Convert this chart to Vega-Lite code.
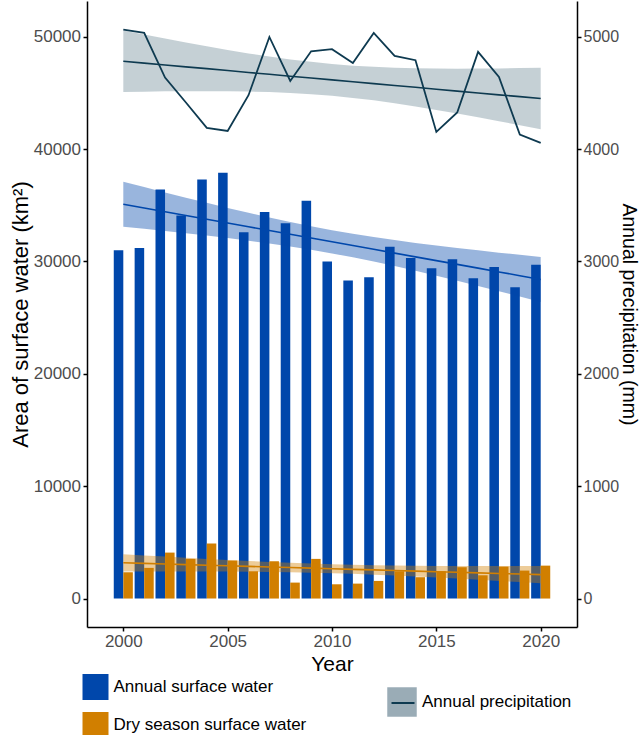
{
  "$schema": "https://vega.github.io/schema/vega-lite/v6.json",
  "width": 490,
  "height": 626,
  "autosize": {"type": "none"},
  "padding": {"left": 87, "top": 1, "right": 64, "bottom": 108},
  "background": "white",
  "config": {
    "font": "Liberation Sans",
    "view": {"stroke": null},
    "axis": {"grid": false, "domainColor": "black", "domainWidth": 1.5, "tickColor": "black", "tickWidth": 1.5, "tickSize": 4, "labelColor": "#4d4d4d", "labelFontSize": 17, "labelFont": "Liberation Sans", "titleFont": "Liberation Sans", "titleFontSize": 21, "titleFontWeight": "normal", "titleColor": "black", "labelPadding": 2.5},
    "legend": {"labelFont": "Liberation Sans", "labelFontSize": 17, "labelColor": "black", "padding": 0, "labelLimit": 400}
  },
  "datasets": {
    "bars": [
      {"year": 2000, "series": "Annual surface water", "area": 31000},
      {"year": 2001, "series": "Annual surface water", "area": 31200},
      {"year": 2002, "series": "Annual surface water", "area": 36400},
      {"year": 2003, "series": "Annual surface water", "area": 34100},
      {"year": 2004, "series": "Annual surface water", "area": 37300},
      {"year": 2005, "series": "Annual surface water", "area": 37900},
      {"year": 2006, "series": "Annual surface water", "area": 32600},
      {"year": 2007, "series": "Annual surface water", "area": 34400},
      {"year": 2008, "series": "Annual surface water", "area": 33400},
      {"year": 2009, "series": "Annual surface water", "area": 35400},
      {"year": 2010, "series": "Annual surface water", "area": 30000},
      {"year": 2011, "series": "Annual surface water", "area": 28300},
      {"year": 2012, "series": "Annual surface water", "area": 28600},
      {"year": 2013, "series": "Annual surface water", "area": 31300},
      {"year": 2014, "series": "Annual surface water", "area": 30300},
      {"year": 2015, "series": "Annual surface water", "area": 29400},
      {"year": 2016, "series": "Annual surface water", "area": 30200},
      {"year": 2017, "series": "Annual surface water", "area": 28500},
      {"year": 2018, "series": "Annual surface water", "area": 29500},
      {"year": 2019, "series": "Annual surface water", "area": 27700},
      {"year": 2020, "series": "Annual surface water", "area": 29700},
      {"year": 2000, "series": "Dry season surface water", "area": 2340},
      {"year": 2001, "series": "Dry season surface water", "area": 2730},
      {"year": 2002, "series": "Dry season surface water", "area": 4090},
      {"year": 2003, "series": "Dry season surface water", "area": 3530},
      {"year": 2004, "series": "Dry season surface water", "area": 4890},
      {"year": 2005, "series": "Dry season surface water", "area": 3380},
      {"year": 2006, "series": "Dry season surface water", "area": 2430},
      {"year": 2007, "series": "Dry season surface water", "area": 3320},
      {"year": 2008, "series": "Dry season surface water", "area": 1420},
      {"year": 2009, "series": "Dry season surface water", "area": 3530},
      {"year": 2010, "series": "Dry season surface water", "area": 1270},
      {"year": 2011, "series": "Dry season surface water", "area": 1330},
      {"year": 2012, "series": "Dry season surface water", "area": 1570},
      {"year": 2013, "series": "Dry season surface water", "area": 2430},
      {"year": 2014, "series": "Dry season surface water", "area": 1900},
      {"year": 2015, "series": "Dry season surface water", "area": 2430},
      {"year": 2016, "series": "Dry season surface water", "area": 2790},
      {"year": 2017, "series": "Dry season surface water", "area": 2070},
      {"year": 2018, "series": "Dry season surface water", "area": 2840},
      {"year": 2019, "series": "Dry season surface water", "area": 2490},
      {"year": 2020, "series": "Dry season surface water", "area": 2930}
    ],
    "precip": [
      {"year": 2000, "precip": 5064},
      {"year": 2001, "precip": 5034},
      {"year": 2002, "precip": 4637},
      {"year": 2003, "precip": 4415},
      {"year": 2004, "precip": 4189},
      {"year": 2005, "precip": 4162},
      {"year": 2006, "precip": 4480},
      {"year": 2007, "precip": 4998},
      {"year": 2008, "precip": 4607},
      {"year": 2009, "precip": 4871},
      {"year": 2010, "precip": 4889},
      {"year": 2011, "precip": 4767},
      {"year": 2012, "precip": 5034},
      {"year": 2013, "precip": 4829},
      {"year": 2014, "precip": 4791},
      {"year": 2015, "precip": 4153},
      {"year": 2016, "precip": 4326},
      {"year": 2017, "precip": 4865},
      {"year": 2018, "precip": 4643},
      {"year": 2019, "precip": 4130},
      {"year": 2020, "precip": 4055}
    ],
    "trend": [
      {"year": 2000, "blo": 33100, "bfit": 35100, "bhi": 37100, "olo": 2410, "ofit": 3180, "ohi": 3950, "plo": 4508, "pfit": 4782, "phi": 5056},
      {"year": 2001, "blo": 32909, "bfit": 34765, "bhi": 36621, "olo": 2413, "ofit": 3127, "ohi": 3841, "plo": 4511, "pfit": 4765, "phi": 5019},
      {"year": 2002, "blo": 32713, "bfit": 34430, "bhi": 36147, "olo": 2414, "ofit": 3075, "ohi": 3736, "plo": 4514, "pfit": 4749, "phi": 4984},
      {"year": 2003, "blo": 32512, "bfit": 34095, "bhi": 35678, "olo": 2412, "ofit": 3022, "ohi": 3632, "plo": 4515, "pfit": 4732, "phi": 4949},
      {"year": 2004, "blo": 32302, "bfit": 33760, "bhi": 35218, "olo": 2409, "ofit": 2970, "ohi": 3531, "plo": 4516, "pfit": 4716, "phi": 4916},
      {"year": 2005, "blo": 32082, "bfit": 33425, "bhi": 34768, "olo": 2400, "ofit": 2917, "ohi": 3434, "plo": 4515, "pfit": 4699, "phi": 4883},
      {"year": 2006, "blo": 31848, "bfit": 33090, "bhi": 34332, "olo": 2386, "ofit": 2864, "ohi": 3342, "plo": 4512, "pfit": 4682, "phi": 4852},
      {"year": 2007, "blo": 31599, "bfit": 32755, "bhi": 33911, "olo": 2367, "ofit": 2812, "ohi": 3257, "plo": 4508, "pfit": 4666, "phi": 4824},
      {"year": 2008, "blo": 31329, "bfit": 32420, "bhi": 33511, "olo": 2339, "ofit": 2759, "ohi": 3179, "plo": 4500, "pfit": 4649, "phi": 4798},
      {"year": 2009, "blo": 31035, "bfit": 32085, "bhi": 33135, "olo": 2303, "ofit": 2707, "ohi": 3111, "plo": 4489, "pfit": 4633, "phi": 4777},
      {"year": 2010, "blo": 30714, "bfit": 31750, "bhi": 32786, "olo": 2255, "ofit": 2654, "ohi": 3053, "plo": 4474, "pfit": 4616, "phi": 4758},
      {"year": 2011, "blo": 30365, "bfit": 31415, "bhi": 32465, "olo": 2197, "ofit": 2601, "ohi": 3005, "plo": 4455, "pfit": 4599, "phi": 4743},
      {"year": 2012, "blo": 29989, "bfit": 31080, "bhi": 32171, "olo": 2129, "ofit": 2549, "ohi": 2969, "plo": 4434, "pfit": 4583, "phi": 4732},
      {"year": 2013, "blo": 29589, "bfit": 30745, "bhi": 31901, "olo": 2051, "ofit": 2496, "ohi": 2941, "plo": 4408, "pfit": 4566, "phi": 4724},
      {"year": 2014, "blo": 29168, "bfit": 30410, "bhi": 31652, "olo": 1966, "ofit": 2444, "ohi": 2922, "plo": 4380, "pfit": 4550, "phi": 4720},
      {"year": 2015, "blo": 28732, "bfit": 30075, "bhi": 31418, "olo": 1874, "ofit": 2391, "ohi": 2908, "plo": 4349, "pfit": 4533, "phi": 4717},
      {"year": 2016, "blo": 28282, "bfit": 29740, "bhi": 31198, "olo": 1777, "ofit": 2338, "ohi": 2899, "plo": 4316, "pfit": 4516, "phi": 4716},
      {"year": 2017, "blo": 27822, "bfit": 29405, "bhi": 30988, "olo": 1676, "ofit": 2286, "ohi": 2896, "plo": 4283, "pfit": 4500, "phi": 4717},
      {"year": 2018, "blo": 27353, "bfit": 29070, "bhi": 30787, "olo": 1572, "ofit": 2233, "ohi": 2894, "plo": 4248, "pfit": 4483, "phi": 4718},
      {"year": 2019, "blo": 26879, "bfit": 28735, "bhi": 30591, "olo": 1467, "ofit": 2181, "ohi": 2895, "plo": 4213, "pfit": 4467, "phi": 4721},
      {"year": 2020, "blo": 26400, "bfit": 28400, "bhi": 30400, "olo": 1358, "ofit": 2128, "ohi": 2898, "plo": 4176, "pfit": 4450, "phi": 4724}
    ]
  },
  "layer": [
    {
      "layer": [
        {
          "data": {"name": "bars"},
          "transform": [{"filter": "datum.series === 'Annual surface water'"}],
          "mark": {"type": "bar", "width": 9.54, "xOffset": -4.77},
          "encoding": {
            "x": {"field": "year", "type": "quantitative", "scale": {"domain": [1998.5, 2021.5], "nice": false, "zero": false},
                  "axis": {"values": [2000, 2005, 2010, 2015, 2020], "format": "d", "title": "Year", "titlePadding": 4}},
            "y": {"field": "area", "type": "quantitative", "scale": {"domain": [-2532, 53182], "nice": false, "zero": false},
                  "axis": {"orient": "left", "values": [0, 10000, 20000, 30000, 40000, 50000], "format": "d", "title": "Area of surface water (km²)", "titlePadding": 1, "titleFontSize": 22}},
            "fill": {"field": "series", "type": "nominal",
                     "scale": {"domain": ["Annual surface water", "Dry season surface water"], "range": ["#0047AB", "#D17F00"]},
                     "legend": {"orient": "none", "legendX": -4.5, "legendY": 673, "title": null, "symbolType": "square", "symbolSize": 676, "symbolStrokeWidth": 0, "symbolOpacity": 1, "rowPadding": 12, "labelOffset": 5}}
          }
        },
        {
          "data": {"name": "bars"},
          "transform": [{"filter": "datum.series === 'Dry season surface water'"}],
          "mark": {"type": "bar", "width": 9.54, "xOffset": 4.77},
          "encoding": {
            "x": {"field": "year", "type": "quantitative", "scale": {"domain": [1998.5, 2021.5], "nice": false, "zero": false},
                  "axis": {"values": [2000, 2005, 2010, 2015, 2020], "format": "d", "title": "Year", "titlePadding": 4}},
            "y": {"field": "area", "type": "quantitative", "scale": {"domain": [-2532, 53182], "nice": false, "zero": false},
                  "axis": {"orient": "left", "values": [0, 10000, 20000, 30000, 40000, 50000], "format": "d", "title": "Area of surface water (km²)", "titlePadding": 1, "titleFontSize": 22}},
            "fill": {"field": "series", "type": "nominal"}
          }
        },
        {
          "data": {"name": "trend"},
          "mark": {"type": "area", "color": "#0047AB", "opacity": 0.4},
          "encoding": {
            "x": {"field": "year", "type": "quantitative", "scale": {"domain": [1998.5, 2021.5], "nice": false, "zero": false},
                  "axis": {"values": [2000, 2005, 2010, 2015, 2020], "format": "d", "title": "Year", "titlePadding": 4}},
            "y": {"field": "blo", "type": "quantitative", "scale": {"domain": [-2532, 53182], "nice": false, "zero": false},
                  "axis": {"orient": "left", "values": [0, 10000, 20000, 30000, 40000, 50000], "format": "d", "title": "Area of surface water (km²)", "titlePadding": 1, "titleFontSize": 22}},
            "y2": {"field": "bhi"}
          }
        },
        {
          "data": {"name": "trend"},
          "mark": {"type": "line", "color": "#0047AB", "strokeWidth": 1.6},
          "encoding": {
            "x": {"field": "year", "type": "quantitative", "scale": {"domain": [1998.5, 2021.5], "nice": false, "zero": false},
                  "axis": {"values": [2000, 2005, 2010, 2015, 2020], "format": "d", "title": "Year", "titlePadding": 4}},
            "y": {"field": "bfit", "type": "quantitative", "scale": {"domain": [-2532, 53182], "nice": false, "zero": false},
                  "axis": {"orient": "left", "values": [0, 10000, 20000, 30000, 40000, 50000], "format": "d", "title": "Area of surface water (km²)", "titlePadding": 1, "titleFontSize": 22}}
          }
        },
        {
          "data": {"name": "trend"},
          "mark": {"type": "area", "color": "#D17F00", "opacity": 0.4},
          "encoding": {
            "x": {"field": "year", "type": "quantitative", "scale": {"domain": [1998.5, 2021.5], "nice": false, "zero": false},
                  "axis": {"values": [2000, 2005, 2010, 2015, 2020], "format": "d", "title": "Year", "titlePadding": 4}},
            "y": {"field": "olo", "type": "quantitative", "scale": {"domain": [-2532, 53182], "nice": false, "zero": false},
                  "axis": {"orient": "left", "values": [0, 10000, 20000, 30000, 40000, 50000], "format": "d", "title": "Area of surface water (km²)", "titlePadding": 1, "titleFontSize": 22}},
            "y2": {"field": "ohi"}
          }
        },
        {
          "data": {"name": "trend"},
          "mark": {"type": "line", "color": "#D17F00", "strokeWidth": 1.6},
          "encoding": {
            "x": {"field": "year", "type": "quantitative", "scale": {"domain": [1998.5, 2021.5], "nice": false, "zero": false},
                  "axis": {"values": [2000, 2005, 2010, 2015, 2020], "format": "d", "title": "Year", "titlePadding": 4}},
            "y": {"field": "ofit", "type": "quantitative", "scale": {"domain": [-2532, 53182], "nice": false, "zero": false},
                  "axis": {"orient": "left", "values": [0, 10000, 20000, 30000, 40000, 50000], "format": "d", "title": "Area of surface water (km²)", "titlePadding": 1, "titleFontSize": 22}}
          }
        }
      ]
    },
    {
      "layer": [
        {
          "data": {"name": "trend"},
          "mark": {"type": "area", "opacity": 0.24},
          "encoding": {
            "x": {"field": "year", "type": "quantitative", "scale": {"domain": [1998.5, 2021.5], "nice": false, "zero": false},
                  "axis": {"values": [2000, 2005, 2010, 2015, 2020], "format": "d", "title": "Year", "titlePadding": 4}},
            "y": {"field": "plo", "type": "quantitative", "scale": {"domain": [-253.2, 5318.2], "nice": false, "zero": false},
                  "axis": {"orient": "right", "values": [0, 1000, 2000, 3000, 4000, 5000], "format": "d", "title": "Annual precipitation (mm)", "titlePadding": 0, "titleFontSize": 19.5, "labelFontSize": 16, "labelPadding": 2}},
            "y2": {"field": "phi"},
            "color": {"datum": "Annual precipitation", "type": "nominal", "scale": {"range": ["#0e3a50"]},
                      "legend": {"orient": "none", "legendX": 300, "legendY": 686, "title": null, "symbolType": "square", "symbolSize": 870, "symbolStrokeWidth": 0, "symbolOpacity": 0.42, "labelOffset": 5}}
          }
        },
        {
          "data": {"name": "trend"},
          "mark": {"type": "line", "color": "#0e3a50", "strokeWidth": 1.6},
          "encoding": {
            "x": {"field": "year", "type": "quantitative", "scale": {"domain": [1998.5, 2021.5], "nice": false, "zero": false},
                  "axis": {"values": [2000, 2005, 2010, 2015, 2020], "format": "d", "title": "Year", "titlePadding": 4}},
            "y": {"field": "pfit", "type": "quantitative", "scale": {"domain": [-253.2, 5318.2], "nice": false, "zero": false},
                  "axis": {"orient": "right", "values": [0, 1000, 2000, 3000, 4000, 5000], "format": "d", "title": "Annual precipitation (mm)", "titlePadding": 0, "titleFontSize": 19.5, "labelFontSize": 16, "labelPadding": 2}}
          }
        },
        {
          "data": {"name": "precip"},
          "mark": {"type": "line", "strokeWidth": 1.8},
          "encoding": {
            "x": {"field": "year", "type": "quantitative", "scale": {"domain": [1998.5, 2021.5], "nice": false, "zero": false},
                  "axis": {"values": [2000, 2005, 2010, 2015, 2020], "format": "d", "title": "Year", "titlePadding": 4}},
            "y": {"field": "precip", "type": "quantitative", "scale": {"domain": [-253.2, 5318.2], "nice": false, "zero": false},
                  "axis": {"orient": "right", "values": [0, 1000, 2000, 3000, 4000, 5000], "format": "d", "title": "Annual precipitation (mm)", "titlePadding": 0, "titleFontSize": 19.5, "labelFontSize": 16, "labelPadding": 2}},
            "stroke": {"datum": "Annual precipitation ", "type": "nominal", "scale": {"range": ["#0e3a50"]},
                       "legend": {"orient": "none", "legendX": 300, "legendY": 686, "title": null, "symbolType": "M-0.78,0H0.78", "symbolSize": 870, "symbolStrokeWidth": 2, "symbolStrokeColor": "#0e3a50", "symbolOpacity": 1, "labelOffset": 5, "labelExpr": "''"}}
          }
        }
      ]
    }
  ],
  "resolve": {"scale": {"y": "independent"}}
}
